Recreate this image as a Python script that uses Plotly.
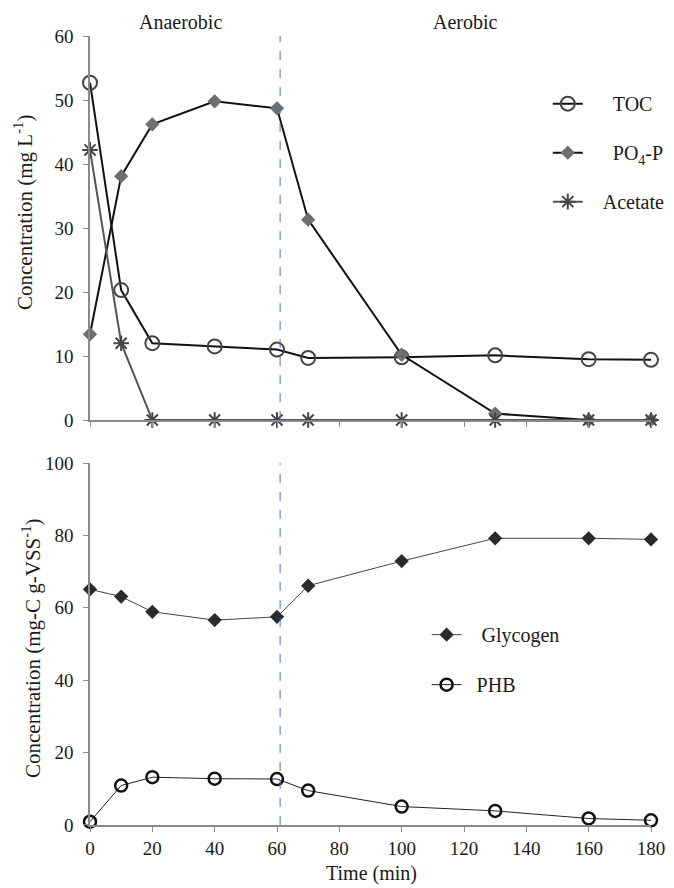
import plotly.graph_objects as go

time = [0, 10, 20, 40, 60, 70, 100, 130, 160, 180]
toc = [52.7, 20.3, 12.0, 11.5, 11.0, 9.7, 9.8, 10.1, 9.5, 9.4]
po4 = [13.4, 38.1, 46.2, 49.8, 48.7, 31.3, 10.2, 1.0, 0.0, 0.0]
acetate = [42.2, 12.0, 0, 0, 0, 0, 0, 0, 0, 0]
glycogen = [65.1, 63.1, 58.9, 56.6, 57.5, 66.1, 72.9, 79.2, 79.2, 78.9]
phb = [0.9, 10.9, 13.2, 12.8, 12.7, 9.5, 5.1, 3.9, 1.8, 1.3]
phase_switch = 61
phase_labels = ["Anaerobic", "Aerobic"]

FONT = "Liberation Serif, Times New Roman, Times, serif"
AX = "#8a8a8a"
TXT = "#1a1a1a"
NB = "\u00a0"

fig = go.Figure()

fig.add_trace(go.Scatter(x=time, y=toc, name=NB * 5 + "TOC", mode="lines+markers",
                         line=dict(color="#111", width=2),
                         marker=dict(symbol="circle-open", size=14, color="#444", line=dict(width=2)),
                         cliponaxis=False, legend="legend", legendgroup="a"))
fig.add_trace(go.Scatter(x=time, y=po4, name=NB * 5 + "PO<sub>4</sub>-P", mode="lines+markers",
                         line=dict(color="#111", width=2),
                         marker=dict(symbol="diamond", size=11, color="#6e6e6e"),
                         cliponaxis=False, legend="legend", legendgroup="b"))
fig.add_trace(go.Scatter(x=time, y=acetate, name=NB * 3 + "Acetate", mode="lines+markers",
                         line=dict(color="#555", width=2),
                         marker=dict(symbol="asterisk-open", size=13, color="#444", line=dict(width=2, color="#444")),
                         cliponaxis=False, legend="legend", legendgroup="c"))

fig.add_trace(go.Scatter(x=time, y=glycogen, name=NB * 3 + "Glycogen", mode="lines+markers",
                         line=dict(color="#444", width=1),
                         marker=dict(symbol="diamond", size=11, color="#2a2a2a"),
                         xaxis="x2", yaxis="y2", cliponaxis=False, legend="legend2", legendgroup="d"))
fig.add_trace(go.Scatter(x=time, y=phb, name=NB * 2 + "PHB", mode="lines+markers",
                         line=dict(color="#222", width=1),
                         marker=dict(symbol="circle-open", size=12, color="#111", line=dict(width=2.5)),
                         xaxis="x2", yaxis="y2", cliponaxis=False, legend="legend2", legendgroup="e"))

axis_common = dict(showline=True, linecolor=AX, linewidth=1.5, ticks="outside", tickcolor=AX,
                   ticklen=5, showgrid=False, zeroline=False,
                   tickfont=dict(family=FONT, size=19, color=TXT))

fig.update_layout(
    width=666, height=880,
    margin=dict(l=82, r=23, t=28, b=63, autoexpand=False),
    paper_bgcolor="white", plot_bgcolor="white",
    font=dict(family=FONT, size=20, color=TXT),
    xaxis=dict(domain=[0, 1], anchor="y", range=[0, 180], dtick=20, showticklabels=False, **axis_common),
    yaxis=dict(domain=[0.5133, 1], anchor="x", range=[0, 60], dtick=10, ticklabelstandoff=6, **axis_common),
    xaxis2=dict(domain=[0, 1], anchor="y2", range=[0, 180], dtick=20, **axis_common),
    yaxis2=dict(domain=[0, 0.4588], anchor="x2", range=[0, 100], dtick=20, ticklabelstandoff=6, **axis_common),
    legend=dict(x=0.816, y=0.939, xanchor="left", yanchor="top", bgcolor="rgba(0,0,0,0)",
                font=dict(family=FONT, size=20, color=TXT), tracegroupgap=20),
    legend2=dict(x=0.6, y=0.266, xanchor="left", yanchor="top", bgcolor="rgba(0,0,0,0)",
                 font=dict(family=FONT, size=20, color=TXT), tracegroupgap=21),
    showlegend=True,
)

fig.add_shape(type="line", x0=phase_switch, x1=phase_switch, y0=0, y1=61.4, xref="x", yref="y",
              line=dict(color="#4a6fc4", width=1, dash="dash"))
fig.add_shape(type="line", x0=phase_switch, x1=phase_switch, y0=0, y1=104.4, xref="x2", yref="y2",
              line=dict(color="#4a6fc4", width=1, dash="dash"))

ann_font = dict(family=FONT, size=20, color=TXT)
fig.add_annotation(text=phase_labels[0], x=28.9, y=1.0177, xref="x", yref="paper",
                   xanchor="center", yanchor="middle", showarrow=False, font=ann_font)
fig.add_annotation(text=phase_labels[1], x=120.6, y=1.0177, xref="x", yref="paper",
                   xanchor="center", yanchor="middle", showarrow=False, font=ann_font)
fig.add_annotation(text="Concentration (mg L<sup>-1</sup>)", x=-0.1176, y=0.7757, xref="paper", yref="paper",
                   xanchor="center", yanchor="middle", textangle=-90, showarrow=False,
                   font=dict(family=FONT, size=21, color=TXT))
fig.add_annotation(text="Concentration (mg-C g-VSS<sup>-1</sup>)", x=-0.1052, y=0.2243, xref="paper", yref="paper",
                   xanchor="center", yanchor="middle", textangle=-90, showarrow=False,
                   font=dict(family=FONT, size=21, color=TXT))
fig.add_annotation(text="Time (min)", x=0.501, y=-0.062, xref="paper", yref="paper",
                   xanchor="center", yanchor="middle", showarrow=False, font=ann_font)

fig.write_html("out.html")
